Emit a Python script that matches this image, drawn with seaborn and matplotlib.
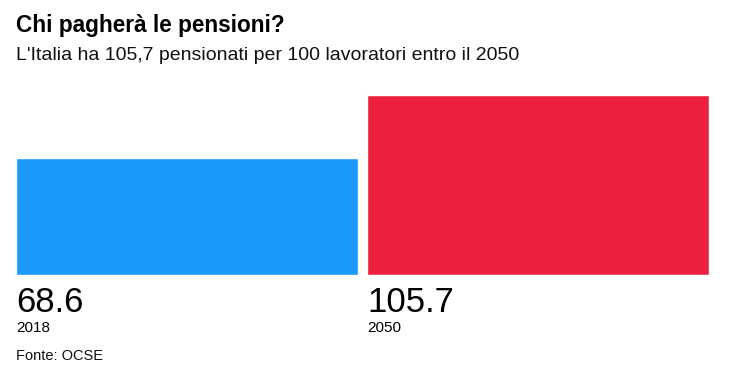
import matplotlib
matplotlib.use("Agg")
import matplotlib.pyplot as plt
import matplotlib.transforms as mtransforms
import seaborn as sns
import pandas as pd

# dati
anni = ["2018", "2050"]
valori = [68.6, 105.7]
etichette = ["68.6", "105.7"]
colori = ["#1a9bfc", "#ed213f"]

sns.set_style("white")
plt.rcParams['font.family'] = ['Liberation Sans', 'DejaVu Sans']
plt.rcParams['text.color'] = '#000000'

df = pd.DataFrame({"anno": anni, "valore": valori})

fig = plt.figure(figsize=(7.42, 3.70), dpi=100)
ax = fig.add_axes([16 / 742, 95 / 370, 693 / 742, 180 / 370])

w = 342 / 351
sns.barplot(data=df, x="anno", y="valore", hue="anno", palette=colori,
            width=w, legend=False, ax=ax, saturation=1)

ax.set_xlim(-w / 2, 1 + w / 2)
ax.set_ylim(0, max(valori))
ax.axis("off")

# etichette sotto le barre
trans = mtransforms.blended_transform_factory(ax.transData, fig.transFigure)
for p, lab, anno in zip(ax.patches, etichette, anni):
    x0 = p.get_x()
    ax.text(x0, 1 - 312 / 370, lab, transform=trans, fontsize=25,
            ha="left", va="baseline", color="#000000")
    ax.text(x0 + 0.002, 1 - 332 / 370, anno, transform=trans, fontsize=11,
            ha="left", va="baseline", color="#000000")

fig.text(16 / 742, 1 - 32 / 370, "Chi pagherà le pensioni?", fontsize=16.3,
         fontweight="bold", ha="left", va="baseline", color="#000000")
fig.text(16 / 742, 1 - 60 / 370,
         "L'Italia ha 105,7 pensionati per 100 lavoratori entro il 2050",
         fontsize=14, ha="left", va="baseline", color="#111111")
fig.text(16 / 742, 1 - 360 / 370, "Fonte: OCSE", fontsize=10.5,
         ha="left", va="baseline", color="#111111")

plt.savefig("out.png", dpi=100)
